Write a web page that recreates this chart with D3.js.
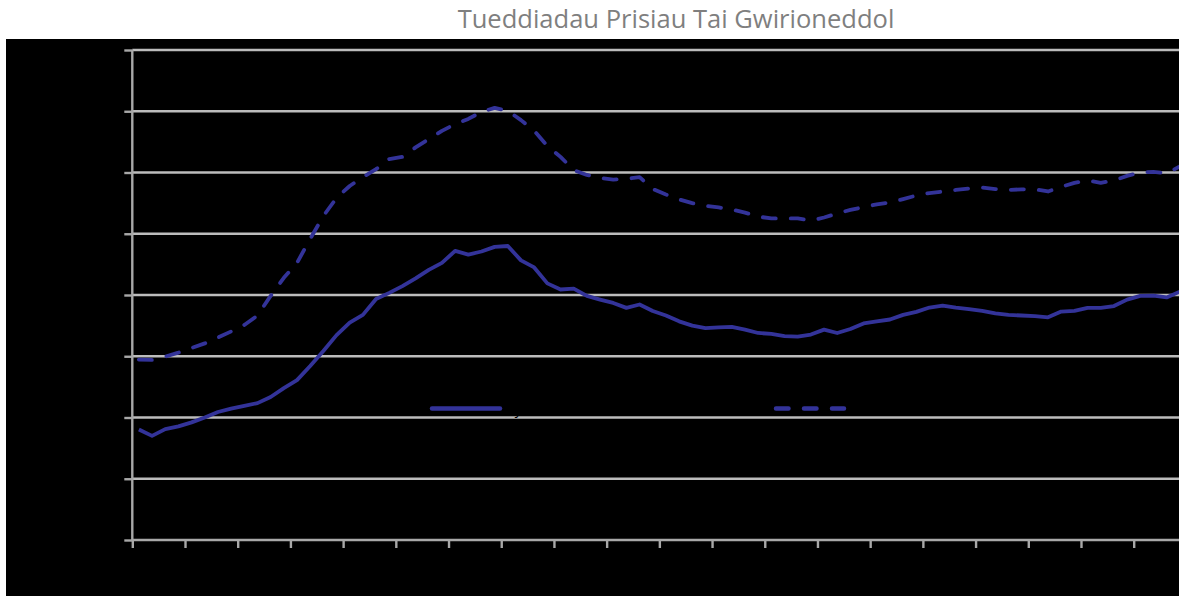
<!DOCTYPE html>
<html>
<head>
<meta charset="utf-8">
<script src="https://cdn.jsdelivr.net/npm/d3@7"></script>
<style>
  html, body { margin: 0; padding: 0; background: #ffffff; }
  svg { display: block; }
</style>
</head>
<body>
<svg id="chart" width="1179" height="596"></svg>
<script>
// ---- Data (quarterly) ----
const title = "Tueddiadau Prisiau Tai Gwirioneddol";
const seriesNames = ["Cymru", "DU"];
const quarters = d3.range(80).map(i => (1983 + Math.floor(i / 4)) + " C" + (i % 4 + 1));
const solidValues = [
  36.1, 34.0, 36.2, 37.1, 38.4, 40.0, 41.8, 42.9, 43.8, 44.7,
  46.7, 49.6, 52.2, 56.8, 61.7, 66.9, 71.0, 73.5, 78.7, 80.7,
  82.9, 85.4, 88.2, 90.5, 94.4, 93.2, 94.2, 95.7, 96.0, 91.3,
  89.0, 83.8, 81.8, 82.1, 79.7, 78.5, 77.4, 75.8, 76.9, 74.8,
  73.3, 71.4, 70.0, 69.2, 69.4, 69.6, 68.7, 67.6, 67.3, 66.6,
  66.4, 67.1, 68.7, 67.6, 68.9, 70.7, 71.4, 72.0, 73.5, 74.5,
  75.9, 76.5, 75.9, 75.4, 74.8, 74.0, 73.5, 73.3, 73.1, 72.7,
  74.6, 74.8, 75.8, 75.8, 76.4, 78.5, 79.7, 79.8, 79.2, 81.1
];
const dashedValues = [
  58.9, 58.8, 59.9, 61.2, 62.7, 64.2, 66.1, 68.1, 70.2, 73.3,
  79.7, 85.6, 90.5, 98.3, 105.8, 111.7, 115.6, 118.5, 121.1, 124.4,
  125.1, 128.2, 130.9, 133.6, 135.8, 137.5, 139.8, 141.1, 140.1, 137.1,
  133.6, 128.7, 125.1, 120.8, 119.2, 118.2, 117.7, 117.9, 118.5, 114.6,
  112.8, 111.2, 110.0, 109.1, 108.6, 107.9, 106.9, 105.6, 105.0, 105.0,
  105.0, 104.3, 105.3, 106.6, 107.8, 108.7, 109.6, 110.2, 111.3, 112.5,
  113.3, 113.8, 114.3, 114.8, 115.1, 114.6, 114.3, 114.5, 114.5, 113.8,
  115.3, 116.6, 117.4, 116.6, 117.4, 118.9, 120.0, 120.2, 119.7, 122.0
];
const yTicks = [0, 20, 40, 60, 80, 100, 120, 140, 160];

// ---- Layout ----
const W = 1179, H = 596;
const plot = { left: 132.3, top: 50, bottom: 540, right: 1186.4 };
const lineColor = "#333399";
const gridColor = "#bcbcbc";

const svg = d3.select("#chart");

// white page, black chart area
svg.append("rect").attr("x", 0).attr("y", 0).attr("width", W).attr("height", H).attr("fill", "#ffffff");
svg.append("rect").attr("x", 6).attr("y", 39).attr("width", W - 6).attr("height", H - 39).attr("fill", "#000000");

// title
const t = svg.append("text")
  .attr("x", 676).attr("y", 28)
  .attr("text-anchor", "middle")
  .attr("font-family", "'Open Sans', sans-serif")
  .attr("font-size", 22)
  .attr("fill", "#7f7f7f")
  .text(title);
const tw = t.node().getComputedTextLength();
t.attr("font-size", 22 * 437 / tw);

// scales
const x = d3.scaleLinear().domain([0, quarters.length]).range([plot.left, plot.right]);
const y = d3.scaleLinear().domain([0, 160]).range([plot.bottom, plot.top]);

// gridlines
svg.append("g").selectAll("line").data(yTicks.slice(1)).join("line")
  .attr("x1", plot.left).attr("x2", plot.right)
  .attr("y1", d => y(d)).attr("y2", d => y(d))
  .attr("stroke", gridColor).attr("stroke-width", 2.4);

// y axis
const yAxis = svg.append("g")
  .attr("transform", `translate(${plot.left},0)`)
  .call(d3.axisLeft(y).tickValues(yTicks).tickSize(8).tickFormat(""));
yAxis.selectAll("path, line").attr("stroke", "#a8a8a8").attr("stroke-width", 2.4);
yAxis.select(".domain").attr("d", `M0,${plot.top}V${plot.bottom}`);

// x axis
const xAxis = svg.append("g")
  .attr("transform", `translate(0,${plot.bottom})`)
  .call(d3.axisBottom(x).tickValues(d3.range(0, quarters.length + 1, 4)).tickSize(8).tickFormat(""));
xAxis.selectAll("path, line").attr("stroke", "#a8a8a8").attr("stroke-width", 2.4);
xAxis.select(".domain").attr("d", `M${plot.left},0H${plot.right}`);

// lines
const line = d3.line()
  .x((d, i) => x(i + 0.5))
  .y(d => y(d));

svg.append("path").datum(dashedValues)
  .attr("d", line)
  .attr("fill", "none")
  .attr("stroke", lineColor)
  .attr("stroke-width", 3.8)
  .attr("stroke-linecap", "round")
  .attr("stroke-linejoin", "round")
  .attr("stroke-dasharray", "13,15");

svg.append("path").datum(solidValues)
  .attr("d", line)
  .attr("fill", "none")
  .attr("stroke", lineColor)
  .attr("stroke-width", 3.8)
  .attr("stroke-linejoin", "round");

// legend (labels are black on black, as in the original)
const legendY = 408.5;
const legend = svg.append("g");
legend.append("line")
  .attr("x1", 432).attr("x2", 500).attr("y1", legendY).attr("y2", legendY)
  .attr("stroke", lineColor).attr("stroke-width", 4.5).attr("stroke-linecap", "round");
legend.append("text")
  .attr("x", 506).attr("y", legendY + 5)
  .attr("font-family", "'Open Sans', sans-serif").attr("font-size", 14)
  .attr("fill", "#000000").text(seriesNames[0]);
legend.append("line")
  .attr("x1", 776).attr("x2", 844).attr("y1", legendY).attr("y2", legendY)
  .attr("stroke", lineColor).attr("stroke-width", 4.5).attr("stroke-linecap", "round")
  .attr("stroke-dasharray", "12.5,15.5");
legend.append("text")
  .attr("x", 850).attr("y", legendY + 5)
  .attr("font-family", "'Open Sans', sans-serif").attr("font-size", 14)
  .attr("fill", "#000000").text(seriesNames[1]);
</script>
</body>
</html>
